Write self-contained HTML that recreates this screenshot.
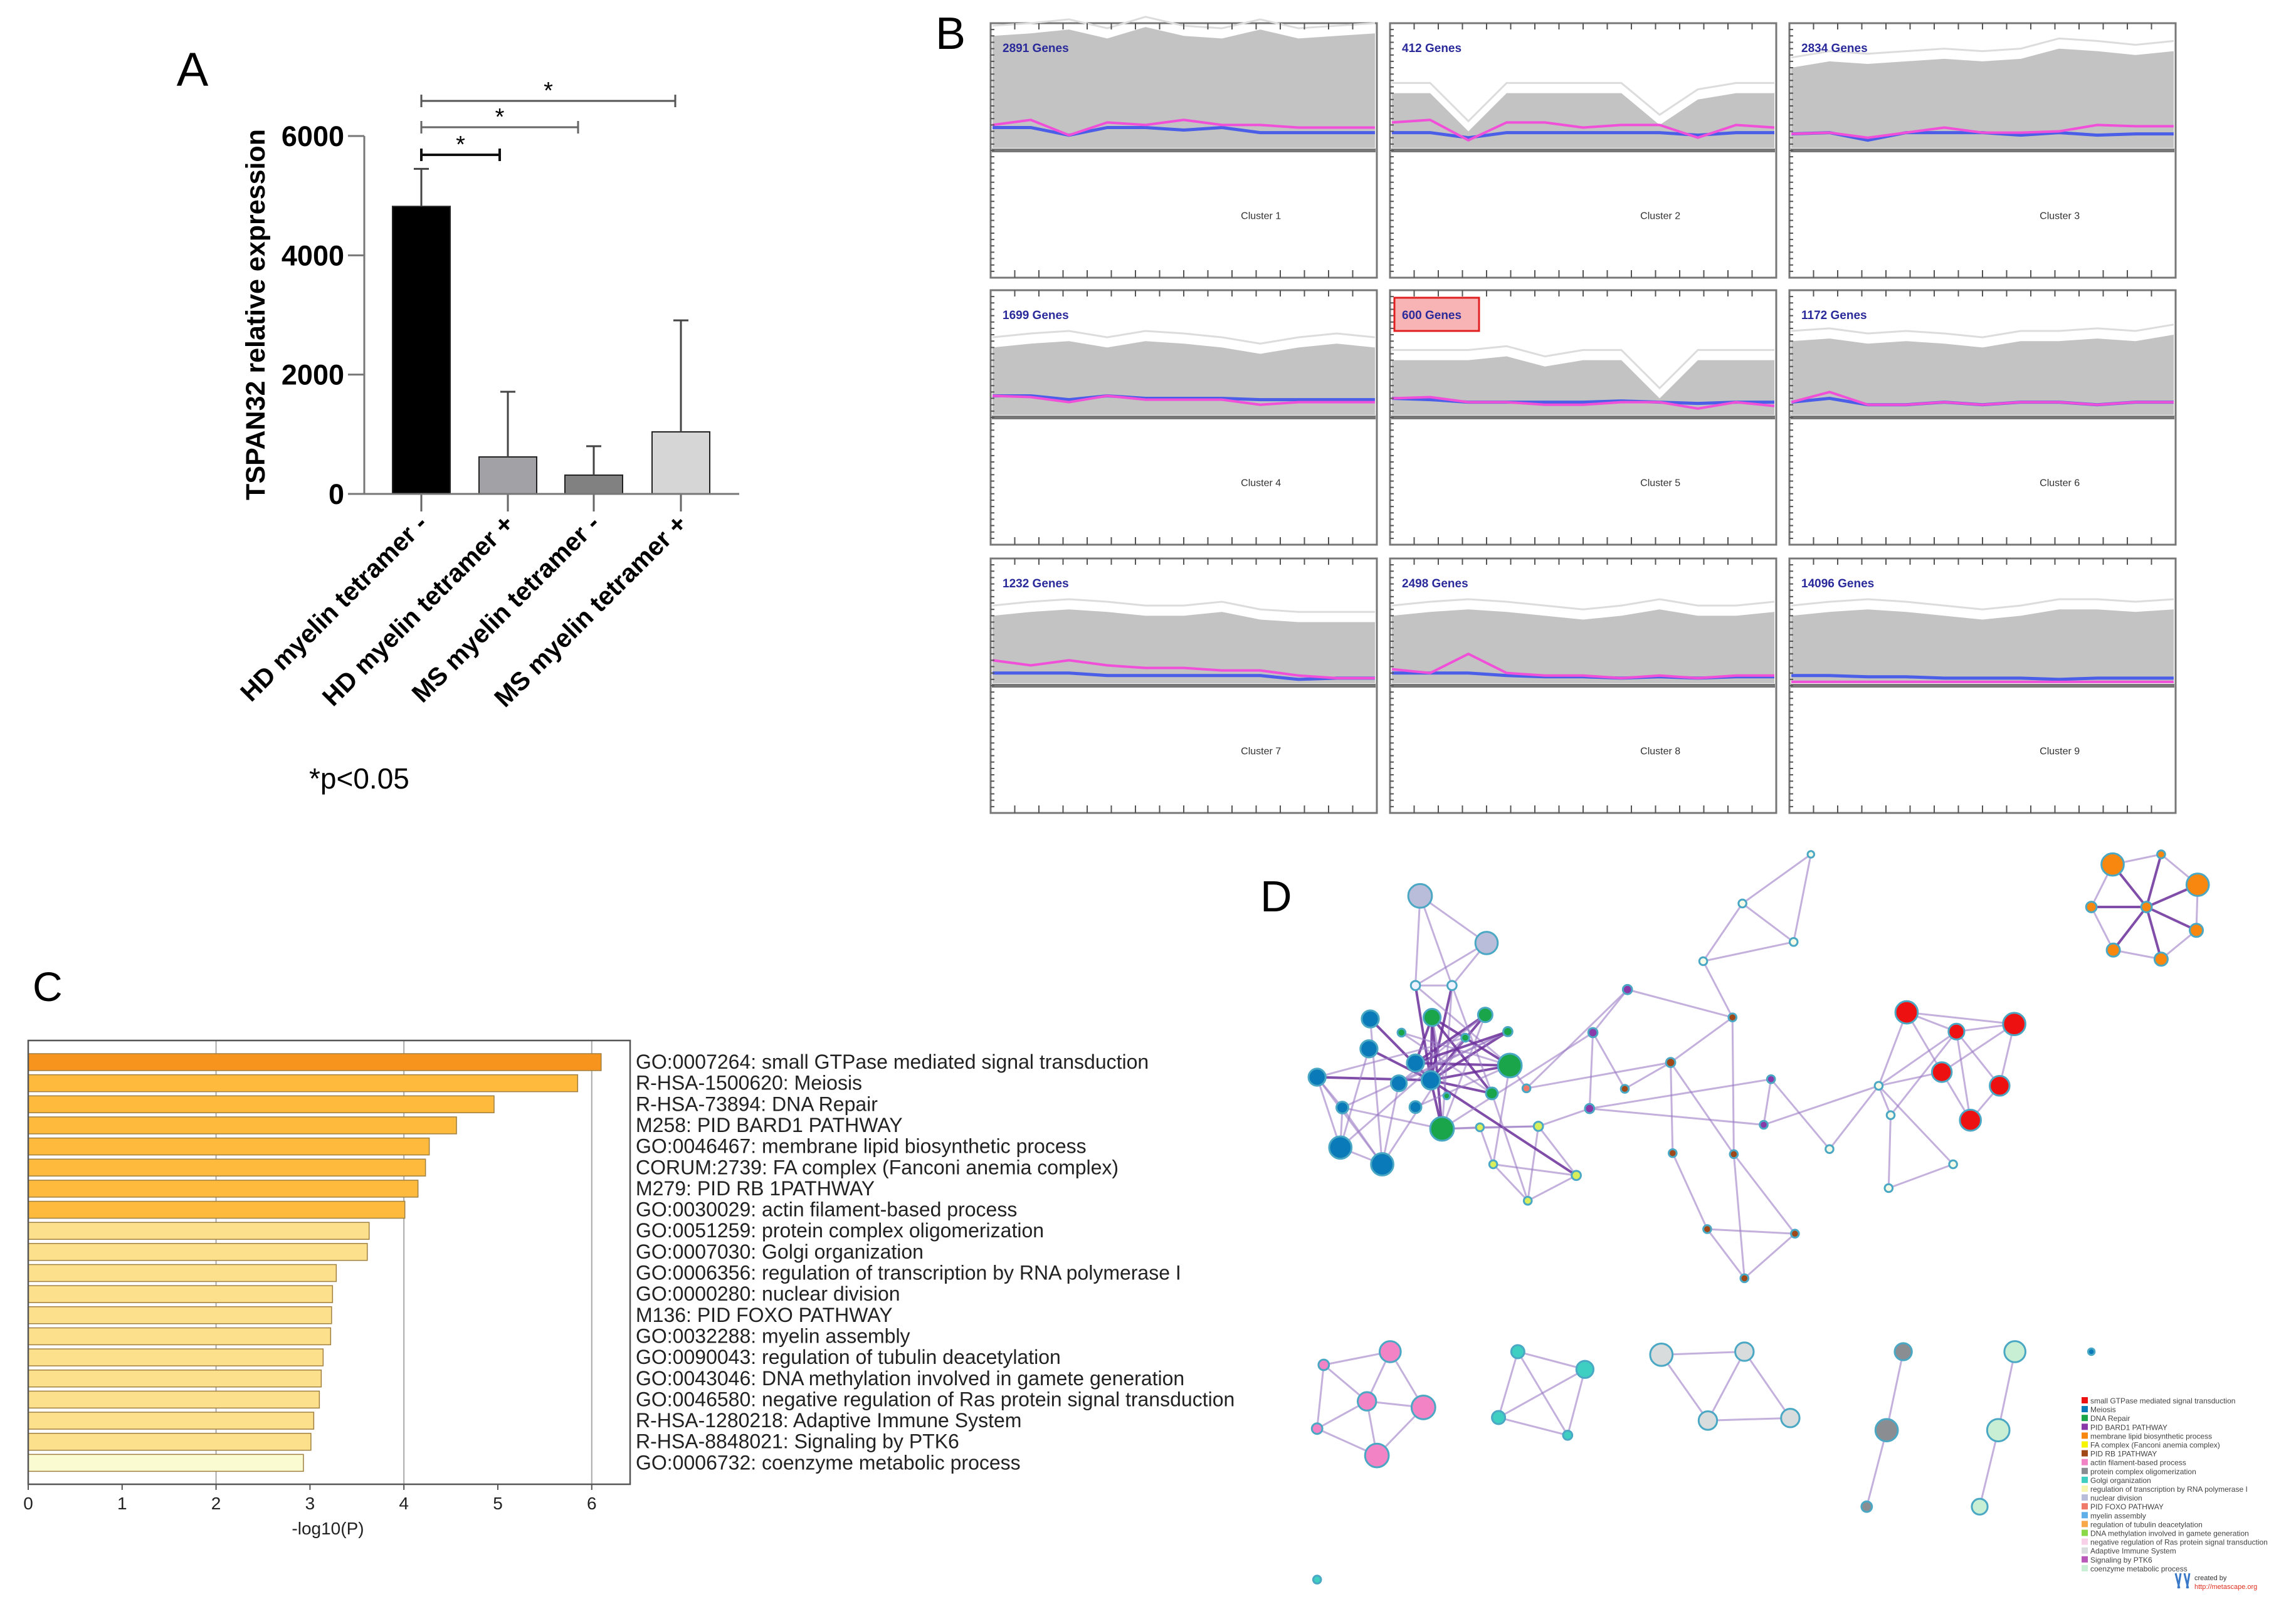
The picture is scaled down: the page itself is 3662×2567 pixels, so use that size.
<!DOCTYPE html>
<html><head><meta charset="utf-8"><style>
html,body{margin:0;padding:0;background:#fff}
svg{display:block}
text{font-family:"Liberation Sans",sans-serif}
</style></head><body>
<svg id="fig" width="3662" height="2567" viewBox="0 0 3662 2567" xmlns="http://www.w3.org/2000/svg">
<rect width="3662" height="2567" fill="#fff"/>
<g id="pa"></g>
<g id="pb"></g>
<g id="pc"></g>
<g id="pd"></g>
</svg>
<script>
// ---------- Panel A data ----------
const aCategories = ["HD myelin tetramer -","HD myelin tetramer +","MS myelin tetramer -","MS myelin tetramer +"];
const aMeans = [4820, 620, 315, 1040];
const aErrors = [5450, 1713, 800, 2910];
const aTicks = [0, 2000, 4000, 6000];
const aColors = ["#000000","#a2a2a6","#818181","#d6d6d6"];
const aBrackets = [[0,1],[0,2],[0,3]];
// ---------- Panel C data ----------
const cTerms = ["GO:0007264: small GTPase mediated signal transduction","R-HSA-1500620: Meiosis","R-HSA-73894: DNA Repair","M258: PID BARD1 PATHWAY","GO:0046467: membrane lipid biosynthetic process","CORUM:2739: FA complex (Fanconi anemia complex)","M279: PID RB 1PATHWAY","GO:0030029: actin filament-based process","GO:0051259: protein complex oligomerization","GO:0007030: Golgi organization","GO:0006356: regulation of transcription by RNA polymerase I","GO:0000280: nuclear division","M136: PID FOXO PATHWAY","GO:0032288: myelin assembly","GO:0090043: regulation of tubulin deacetylation","GO:0043046: DNA methylation involved in gamete generation","GO:0046580: negative regulation of Ras protein signal transduction","R-HSA-1280218: Adaptive Immune System","R-HSA-8848021: Signaling by PTK6","GO:0006732: coenzyme metabolic process"];
const cValues = [6.10,5.85,4.96,4.56,4.27,4.23,4.15,4.01,3.63,3.61,3.28,3.24,3.23,3.22,3.14,3.12,3.10,3.04,3.01,2.93];
const cTicks = [0,1,2,3,4,5,6];
// ---------- Panel B data ----------
const bGenes = ["2891 Genes","412 Genes","2834 Genes","1699 Genes","600 Genes","1172 Genes","1232 Genes","2498 Genes","14096 Genes"];
const bGray = [
[0.10,0.08,0.05,0.12,0.03,0.10,0.12,0.05,0.12,0.10,0.08],
[0.55,0.55,0.85,0.55,0.55,0.55,0.55,0.80,0.60,0.55,0.55],
[0.35,0.30,0.32,0.30,0.28,0.30,0.28,0.20,0.22,0.25,0.22],
[0.45,0.42,0.40,0.45,0.40,0.42,0.45,0.50,0.45,0.42,0.45],
[0.55,0.55,0.55,0.52,0.60,0.55,0.55,0.85,0.55,0.55,0.55],
[0.40,0.38,0.42,0.40,0.42,0.45,0.40,0.40,0.38,0.40,0.35],
[0.45,0.42,0.40,0.42,0.45,0.45,0.42,0.48,0.50,0.50,0.50],
[0.45,0.42,0.40,0.42,0.45,0.48,0.45,0.40,0.45,0.45,0.42],
[0.45,0.42,0.40,0.42,0.45,0.48,0.45,0.40,0.40,0.42,0.40]];
const bMagenta = [
[0.80,0.76,0.88,0.78,0.80,0.76,0.80,0.80,0.82,0.82,0.82],
[0.78,0.76,0.92,0.78,0.78,0.82,0.80,0.80,0.90,0.80,0.82],
[0.87,0.86,0.90,0.86,0.82,0.86,0.86,0.85,0.80,0.81,0.81],
[0.83,0.84,0.88,0.83,0.86,0.86,0.86,0.90,0.88,0.88,0.88],
[0.85,0.84,0.88,0.88,0.90,0.90,0.88,0.88,0.93,0.88,0.91],
[0.88,0.80,0.90,0.90,0.88,0.90,0.88,0.88,0.90,0.88,0.88],
[0.80,0.84,0.80,0.84,0.86,0.86,0.88,0.88,0.92,0.94,0.94],
[0.87,0.90,0.75,0.90,0.92,0.92,0.94,0.92,0.94,0.92,0.92],
[0.97,0.97,0.97,0.97,0.97,0.97,0.97,0.97,0.97,0.97,0.97]];
const bBlue = [
[0.82,0.82,0.88,0.82,0.82,0.84,0.82,0.86,0.86,0.86,0.86],
[0.86,0.86,0.90,0.86,0.86,0.86,0.86,0.86,0.88,0.86,0.86],
[0.87,0.86,0.92,0.86,0.86,0.86,0.88,0.86,0.88,0.87,0.87],
[0.83,0.83,0.86,0.83,0.85,0.85,0.85,0.86,0.86,0.86,0.86],
[0.85,0.86,0.88,0.88,0.88,0.88,0.87,0.88,0.89,0.88,0.88],
[0.88,0.85,0.90,0.90,0.88,0.90,0.88,0.88,0.90,0.88,0.88],
[0.90,0.90,0.90,0.92,0.92,0.92,0.92,0.92,0.95,0.94,0.94],
[0.90,0.90,0.90,0.92,0.93,0.93,0.94,0.93,0.94,0.93,0.93],
[0.92,0.92,0.93,0.93,0.94,0.94,0.94,0.95,0.94,0.94,0.94]];
// ---------- Panel D data ----------
const dNodeX = [250,350,243,298,175,173,95,243,218,266,133,243,130,193,268,348,385,283,222,318,382,358,290,340,428,360,485,412,410,562,510,505,778,767,627,558,720,722,630,682,738,814,838,735,812,676,866,940,958,1052,955,982,1144,1057,1035,1122,1078,1292,1420,1365,1260,1343,1418,1293,1365,205,105,170,255,95,185,397,498,368,472,613,738,683,807,977,952,922,1145,1120,1092,1260,95];
const dNodeY = [160,253,337,337,403,462,518,490,530,524,578,577,657,690,400,395,495,620,430,440,428,550,555,617,615,690,712,762,540,345,430,580,522,612,489,541,400,670,668,818,915,827,78,175,251,289,660,535,593,690,737,390,413,428,508,535,603,98,138,78,182,182,228,267,285,1060,1086,1158,1170,1212,1265,1060,1095,1190,1225,1066,1060,1196,1191,1060,1215,1366,1060,1215,1366,1060,1510];
const dNodeSize = [18,17,7,7,13,13,13,13,12,14,9,9,17,17,13,11,18,18,6,6,7,9,5,6,7,6,7,6,6,7,7,7,6,6,7,6,6,6,6,6,6,6,5,6,6,6,6,6,6,6,6,17,17,12,15,15,16,17,17,6,8,8,10,10,10,16,8,14,18,8,18,10,13,10,7,17,14,14,14,13,17,8,16,17,12,5,6];
const dNodeColor = ["#b9bdda","#b9bdda","#eef2ff","#eef2ff","#0a7ab8","#0a7ab8","#0a7ab8","#0a7ab8","#0a7ab8","#0a7ab8","#0a7ab8","#0a7ab8","#0a7ab8","#0a7ab8","#1aa54a","#1aa54a","#1aa54a","#1aa54a","#1aa54a","#1aa54a","#1aa54a","#1aa54a","#1aa54a","#d8ee5a","#d8ee5a","#d8ee5a","#d8ee5a","#d8ee5a","#f07a6a","#8a3aa8","#8a3aa8","#8a3aa8","#8a3aa8","#8a3aa8","#a04818","#a04818","#a04818","#a04818","#a04818","#a04818","#a04818","#a04818","#f4fbe6","#f4fbe6","#f4fbe6","#f4fbe6","#f4fbe6","#f4fbe6","#f4fbe6","#f4fbe6","#f4fbe6","#ee1111","#ee1111","#ee1111","#ee1111","#ee1111","#ee1111","#f7870f","#f7870f","#f7870f","#f7870f","#f7870f","#f7870f","#f7870f","#f7870f","#f283c4","#f283c4","#f283c4","#f283c4","#f283c4","#f283c4","#3ecfc2","#3ecfc2","#3ecfc2","#3ecfc2","#d8dcdc","#d8dcdc","#d8dcdc","#d8dcdc","#8a8e92","#8a8e92","#8a8e92","#c8efd4","#c8efd4","#c8efd4","#0a7ab8","#3ecfc2"];
const dEdges = [[9,4],[9,5],[9,6],[9,14],[9,15],[9,16],[9,17],[9,20],[9,21],[9,2],[9,3],[7,14],[7,16],[7,15],[14,16],[14,17],[18,16],[18,21],[19,6],[19,12],[19,13],[3,21],[3,17],[2,16],[14,21],[15,17],[20,8],[20,10],[11,16],[22,14],[7,20],[8,15],[0,1],[0,2],[0,3],[1,3],[1,2],[2,3],[6,10],[6,12],[10,12],[12,13],[10,13],[6,13],[4,13],[5,12],[10,17],[8,13],[23,24],[23,25],[25,26],[24,26],[25,27],[26,27],[24,27],[17,24],[16,25],[9,26],[21,27],[17,23],[28,29],[28,34],[28,16],[29,30],[29,36],[30,35],[30,31],[31,24],[31,32],[34,35],[34,36],[34,37],[34,38],[36,45],[45,43],[43,44],[43,42],[42,44],[45,44],[36,37],[37,40],[38,39],[39,41],[39,40],[40,41],[37,41],[32,33],[32,46],[33,47],[46,47],[47,48],[48,50],[50,49],[47,49],[47,51],[47,53],[47,54],[48,53],[51,52],[51,54],[52,53],[52,55],[53,56],[54,56],[52,54],[53,55],[51,53],[55,56],[31,33],[30,17],[61,57],[61,58],[61,59],[61,60],[61,62],[61,63],[61,64],[57,59],[57,60],[60,63],[63,64],[64,62],[62,58],[58,59],[65,66],[65,67],[65,68],[66,67],[66,69],[67,68],[67,70],[67,69],[69,70],[68,70],[71,72],[71,73],[71,74],[72,73],[72,74],[73,74],[75,76],[75,77],[76,77],[76,78],[77,78],[79,80],[80,81],[82,83],[83,84]];
const dLegend = ["small GTPase mediated signal transduction","Meiosis","DNA Repair","PID BARD1 PATHWAY","membrane lipid biosynthetic process","FA complex (Fanconi anemia complex)","PID RB 1PATHWAY","actin filament-based process","protein complex oligomerization","Golgi organization","regulation of transcription by RNA polymerase I","nuclear division","PID FOXO PATHWAY","myelin assembly","regulation of tubulin deacetylation","DNA methylation involved in gamete generation","negative regulation of Ras protein signal transduction","Adaptive Immune System","Signaling by PTK6","coenzyme metabolic process"];
const dLegendColor = ["#ee1111","#0a7ab8","#1aa54a","#8a3aa8","#f7870f","#f5f500","#a04818","#f283c4","#8a8e92","#3ecfc2","#f6f6b0","#b9bdda","#f07a6a","#5fb0e8","#f7a848","#8ad848","#f8d0e8","#d8dcdc","#b858b8","#c8efd4"];

const NS="http://www.w3.org/2000/svg";
function mk(tag, attrs, parent, txt){const e=document.createElementNS(NS,tag);for(const k in attrs)e.setAttribute(k,attrs[k]);if(txt!==undefined)e.textContent=txt;parent.appendChild(e);return e;}

// ===== Panel A =====
(function(){
const g=document.getElementById('pa');
const x0=581, yTop=217, yBot=788, vmax=6000;
const ys=v=>yBot-(v/vmax)*(yBot-yTop);
const cx=[672,810,947,1086], bw=92;
let t=mk('text',{x:307,y:137,'font-size':76,'text-anchor':'middle'},g,'A');


aCategories.forEach((c,i)=>{
  const r=mk('rect',{x:cx[i]-bw/2,y:ys(aMeans[i]),width:bw,height:yBot-ys(aMeans[i]),fill:aColors[i],stroke:'#222','stroke-width':2},g);
  
  
  const e=mk('path',{d:`M${cx[i]},${ys(aMeans[i])}V${ys(aErrors[i])}M${cx[i]-12},${ys(aErrors[i])}H${cx[i]+12}`,stroke:'#444','stroke-width':3,fill:'none'},g);
  
  
  mk('line',{x1:cx[i],x2:cx[i],y1:yBot,y2:yBot+28,stroke:'#666','stroke-width':3},g);
  const l=mk('text',{transform:`translate(${cx[i]+12},${yBot+50}) rotate(-45)`,'font-size':41,'font-weight':'bold','text-anchor':'end'},g,c);
  
  
});
const ax=mk('path',{d:`M${x0},${yTop}V${yBot}H${1179}`,stroke:'#777','stroke-width':3,fill:'none'},g);


aTicks.forEach(v=>{
  mk('line',{x1:x0-26,x2:x0,y1:ys(v),y2:ys(v),stroke:'#777','stroke-width':3},g);
  const tl=mk('text',{x:x0-32,y:ys(v)+16,'font-size':45,'font-weight':'bold','text-anchor':'end'},g,String(v));
  
  
});
const yt=mk('text',{transform:`translate(422,502) rotate(-90)`,'font-size':43,'font-weight':'bold','text-anchor':'middle'},g,'TSPAN32 relative expression');


const by=[247,203,161], bc=['#111','#666','#555'];
aBrackets.forEach((b,k)=>{
  const xa=cx[b[0]], xb=[0,797,922,1077][b[1]];
  const p=mk('path',{d:`M${xa},${by[k]-10}V${by[k]+10}M${xa},${by[k]}H${xb}M${xb},${by[k]-10}V${by[k]+10}`,stroke:bc[k],'stroke-width':k==0?4:3,fill:'none'},g);
  
  
  mk('text',{x:(xa+xb)/2,y:by[k]-4,'font-size':38,'text-anchor':'middle'},g,'*');
});
const pn=mk('text',{x:493,y:1258,'font-size':46},g,'*p<0.05');


})();

// ===== Panel B =====
(function(){
const g=document.getElementById('pb');
const t=mk('text',{x:1492,y:78,'font-size':72},g,'B');


const px=[1580,2217,2854], py=[37,463,891], W=616, H=406, U=203;
for(let i=0;i<9;i++){
  const X=px[i%3], Y=py[Math.floor(i/3)];
  const pg=mk('g',{},g);
  
  
  mk('rect',{x:X,y:Y,width:W,height:H,fill:'#fff',stroke:'#777','stroke-width':3},pg);
  const n=bGray[i].length, xs=k=>X+3+k*(W-6)/(n-1);
  let d=`M${X+3},${Y+U-4}`;
  bGray[i].forEach((v,k)=>{d+=`L${xs(k)},${Y+v*U}`});
  d+=`L${X+W-3},${Y+U-4}Z`;
  const gp=mk('path',{d,fill:'#c3c3c3'},pg);
  
  
  let d2='';bGray[i].forEach((v,k)=>{d2+=(k?'L':'M')+xs(k)+','+(Y+(v-0.08)*U)});
  mk('path',{d:d2,fill:'none',stroke:'#dcdcdc','stroke-width':3},pg);
  let dm='',db='';
  bMagenta[i].forEach((v,k)=>{dm+=(k?'L':'M')+xs(k)+','+(Y+v*U)});
  bBlue[i].forEach((v,k)=>{db+=(k?'L':'M')+xs(k)+','+(Y+v*U)});
  const lb=mk('path',{d:db,fill:'none',stroke:'#4a5ee8','stroke-width':5},pg);
  
  
  const lm=mk('path',{d:dm,fill:'none',stroke:'#f050d8','stroke-width':4},pg);
  
  
  mk('rect',{x:X+2,y:Y+U-3,width:W-4,height:6,fill:'#777'},pg);
  let tk='';
  for(let k=1;k<16;k++){const xx=X+k*W/16;tk+=`M${xx},${Y}v10M${xx},${Y+H}v-12`;}
  for(let k=1;k<40;k++){const yy=Y+k*H/40;tk+=`M${X},${yy}h6`;}
  mk('path',{d:tk,stroke:'#555','stroke-width':2,fill:'none'},pg);
  if(i===4) mk('rect',{x:X+7,y:Y+12,width:135,height:53,fill:'#f8b4b4',stroke:'#e02020','stroke-width':3},pg);
  const gl=mk('text',{x:X+19,y:Y+46,'font-size':19,'font-family':'Liberation Mono, monospace','font-weight':'bold',fill:'#2a2a9a'},pg,bGenes[i]);
  
  
  const cl=mk('text',{x:X+W*0.70,y:Y+H*0.77,'font-size':16,'text-anchor':'middle',fill:'#333'},pg,'Cluster '+(i+1));
  
  
}
})();

// ===== Panel C =====
(function(){
const g=document.getElementById('pc');
const t=mk('text',{x:52,y:1597,'font-size':66},g,'C');


const x0=45, unit=149.8, yTop=1660, yBot=2368, fx=v=>x0+v*unit;
[2,4,6].forEach(v=>mk('line',{x1:fx(v),x2:fx(v),y1:yTop,y2:yBot,stroke:'#aaa','stroke-width':2},g));
const pitch=33.65;
cValues.forEach((v,i)=>{
  const col=i===0?'#f7941d':(i<8?'#fdba3c':(i<19?'#fde08c':'#fbfbd2'));
  const y=1681+i*pitch;
  const r=mk('rect',{x:x0,y:y,width:fx(v)-x0,height:27,fill:col,stroke:'#a08040','stroke-width':1.5},g);
  
  
  const l=mk('text',{x:1014,y:y+24,'font-size':32,fill:'#222'},g,cTerms[i]);
  
  
});
const fr=mk('rect',{x:x0,y:yTop,width:1005-x0,height:yBot-yTop,fill:'none',stroke:'#555','stroke-width':2.5},g);


cTicks.forEach(v=>{
  mk('line',{x1:fx(v),x2:fx(v),y1:yBot,y2:yBot+9,stroke:'#555','stroke-width':2},g);
  const tl=mk('text',{x:fx(v),y:2408,'font-size':28,'text-anchor':'middle',fill:'#222'},g,String(v));
  
  
});
const xt=mk('text',{x:523,y:2448,'font-size':28,'text-anchor':'middle',fill:'#222'},g,'-log10(P)');


})();

// ===== Panel D =====
(function(){
const g=document.getElementById('pd');
const t=mk('text',{x:2010,y:1454,'font-size':70},g,'D');


const X=x=>2000+1.06*x, Y=y=>1300+0.808*y;
const eg=mk('g',{},g);


dEdges.forEach(([a,b])=>{
  const hub=(a===9||a===61||a===7||a===14);
  mk('line',{x1:X(dNodeX[a]),y1:Y(dNodeY[a]),x2:X(dNodeX[b]),y2:Y(dNodeY[b]),stroke:hub?'#6a2e9a':'#9b7cc4','stroke-width':hub?4:3,'stroke-opacity':hub?0.85:0.6},eg);
});
dNodeX.forEach((x,i)=>{
  const c=mk('circle',{cx:X(x),cy:Y(dNodeY[i]),r:dNodeSize[i]*1.05,fill:dNodeColor[i],stroke:'#4aa8c4','stroke-width':3},g);
  
  
});
const lg=mk('g',{},g);


dLegend.forEach((s,i)=>{
  const y=2229+i*14.1;
  mk('rect',{x:3320,y:y,width:10,height:10,fill:dLegendColor[i]},lg);
  const tx=mk('text',{x:3334,y:y+10,'font-size':12,fill:'#444'},lg,s);
  
  
});
mk('path',{d:'M3470,2510l6,24M3478,2510l-4,24M3484,2510l6,24M3492,2510l-4,24',stroke:'#3a78c8','stroke-width':3,fill:'none'},g);
mk('text',{x:3500,y:2521,'font-size':11,fill:'#333'},g,'created by');
const lk=mk('text',{x:3500,y:2535,'font-size':11,fill:'#e03020'},g,'http://metascape.org');


})();
</script>
</body></html>
